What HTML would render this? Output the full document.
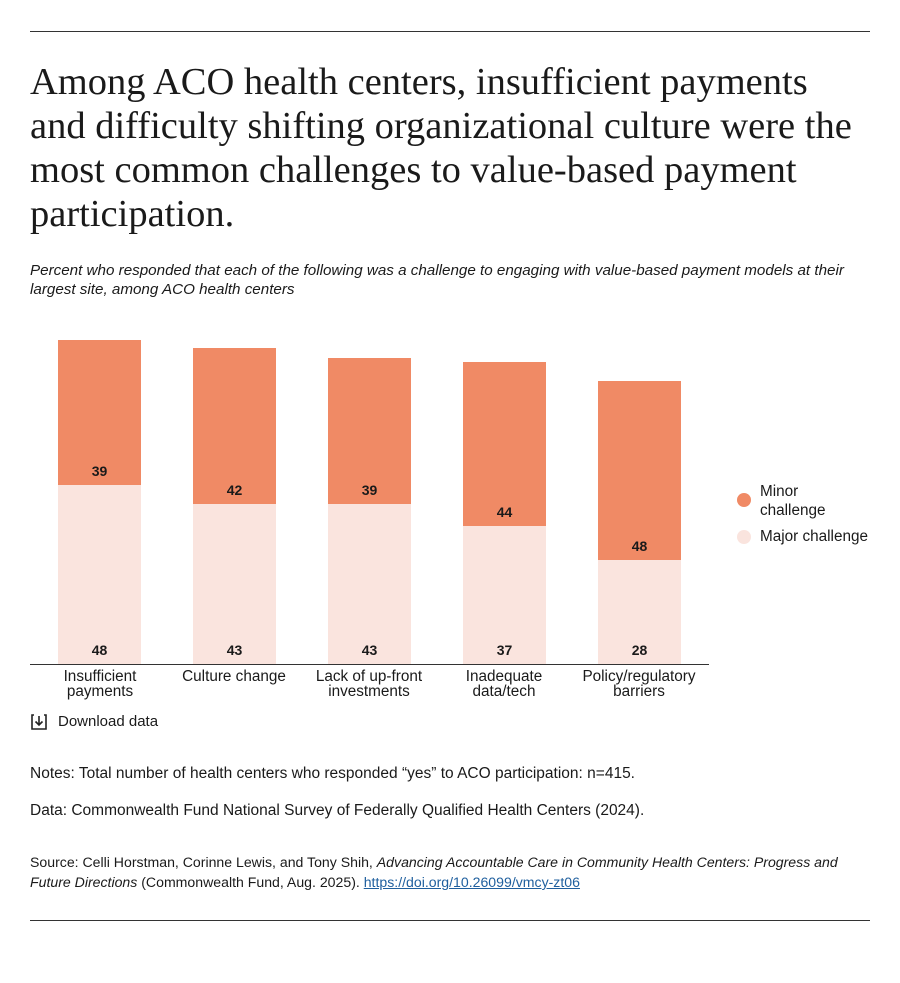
<!DOCTYPE html>
<html><head><meta charset="utf-8"><style>
body{margin:0;background:#fff;width:900px;height:983px;position:relative;font-family:"Liberation Sans",sans-serif;color:#1a1a1a}
.a{position:absolute;white-space:nowrap}
.rule{position:absolute;left:30px;width:840px;height:1px;background:#333}
h1{position:absolute;left:30px;top:60px;margin:0;white-space:nowrap;font-family:"Liberation Serif",serif;font-weight:normal;font-size:38.5px;line-height:44px;color:#1a1a1a}
.sub{left:30px;top:261px;font-style:italic;font-size:15.2px;line-height:19px}
.bar{position:absolute;width:83px}
.mi{background:#F08A65}.ma{background:#FAE4DE}
.v{position:absolute;width:83px;text-align:center;font-weight:bold;font-size:14px}
.lab{position:absolute;width:140px;text-align:center;font-size:15.3px;line-height:15px}
.note{left:30px;font-size:15.5px}
</style></head><body>
<div class="rule" style="top:31px"></div>
<h1>Among ACO health centers, insufficient payments<br>and difficulty shifting organizational culture were the<br>most common challenges to value-based payment<br>participation.</h1>
<div class="a sub">Percent who responded that each of the following was a challenge to engaging with value-based payment models at their<br>largest site, among ACO health centers</div>

<div class="bar mi" style="left:58px;top:340px;height:145px"></div><div class="bar ma" style="left:58px;top:485px;height:179px"></div>
<div class="bar mi" style="left:193px;top:348px;height:156px"></div><div class="bar ma" style="left:193px;top:504px;height:160px"></div>
<div class="bar mi" style="left:328px;top:358px;height:146px"></div><div class="bar ma" style="left:328px;top:504px;height:160px"></div>
<div class="bar mi" style="left:463px;top:362px;height:164px"></div><div class="bar ma" style="left:463px;top:526px;height:138px"></div>
<div class="bar mi" style="left:598px;top:381px;height:179px"></div><div class="bar ma" style="left:598px;top:560px;height:104px"></div>
<div class="a" style="left:30px;top:664px;width:679px;height:1px;background:#333"></div>

<div class="v" style="left:58px;top:463px">39</div><div class="v" style="left:58px;top:642px">48</div>
<div class="v" style="left:193px;top:482px">42</div><div class="v" style="left:193px;top:642px">43</div>
<div class="v" style="left:328px;top:482px">39</div><div class="v" style="left:328px;top:642px">43</div>
<div class="v" style="left:463px;top:504px">44</div><div class="v" style="left:463px;top:642px">37</div>
<div class="v" style="left:598px;top:538px">48</div><div class="v" style="left:598px;top:642px">28</div>

<div class="lab" style="left:30px;top:669px">Insufficient<br>payments</div>
<div class="lab" style="left:164px;top:669px">Culture change</div>
<div class="lab" style="left:299px;top:669px">Lack of up-front<br>investments</div>
<div class="lab" style="left:434px;top:669px">Inadequate<br>data/tech</div>
<div class="lab" style="left:569px;top:669px">Policy/regulatory<br>barriers</div>

<div class="a" style="left:737px;top:493px;width:14px;height:14px;border-radius:50%;background:#F08A65"></div>
<div class="a" style="left:760px;top:482px;font-size:15.3px;line-height:19px">Minor<br>challenge</div>
<div class="a" style="left:737px;top:530px;width:14px;height:14px;border-radius:50%;background:#FAE4DE"></div>
<div class="a" style="left:760px;top:528px;font-size:15.3px">Major challenge</div>

<svg class="a" style="left:30px;top:713px" width="18" height="18" viewBox="0 0 18 18"><path d="M4 2H2v14h14V2h-2" fill="none" stroke="#222" stroke-width="1.6"/><path d="M9 3v9M5.5 8.5L9 12l3.5-3.5" fill="none" stroke="#222" stroke-width="1.6"/></svg>
<div class="a" style="left:58px;top:713px;font-size:15px">Download data</div>

<div class="a note" style="top:765px">Notes: Total number of health centers who responded “yes” to ACO participation: n=415.</div>
<div class="a note" style="top:802px">Data: Commonwealth Fund National Survey of Federally Qualified Health Centers (2024).</div>
<div class="a note" style="top:852px;font-size:14.1px;line-height:20px">Source: Celli Horstman, Corinne Lewis, and Tony Shih, <i>Advancing Accountable Care in Community Health Centers: Progress and<br>Future Directions</i> (Commonwealth Fund, Aug. 2025). <span style="color:#1f5f9e;text-decoration:underline">https://doi.org/10.26099/vmcy-zt06</span></div>
<div class="rule" style="top:920px"></div>
</body></html>
